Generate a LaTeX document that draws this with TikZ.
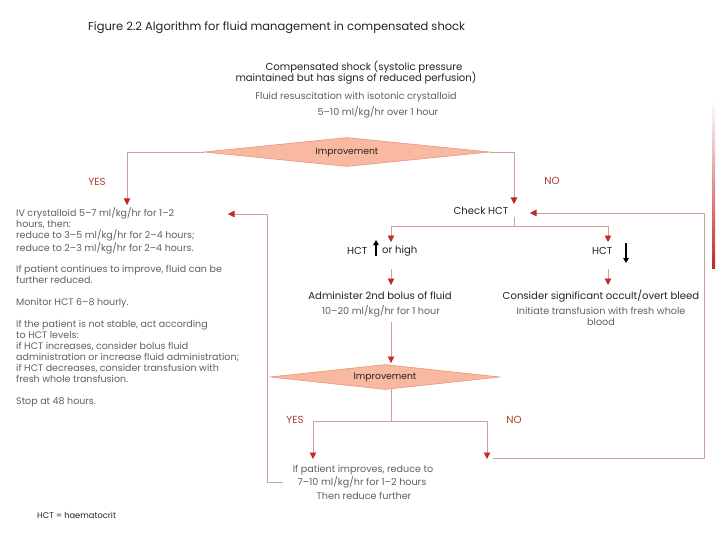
\documentclass[tikz,border=0pt]{standalone}
\usepackage{fontspec}
\setmainfont{Poppins}
\usetikzlibrary{arrows.meta,shapes.geometric}
\definecolor{linec}{RGB}{208,160,160}
\definecolor{arrowc}{RGB}{196,40,40}
\definecolor{dfill}{RGB}{249,184,160}
\definecolor{dline}{RGB}{228,140,115}
\definecolor{labc}{RGB}{176,60,50}
\definecolor{darkt}{RGB}{35,35,35}
\definecolor{grayt}{RGB}{95,95,95}
\begin{document}
\begin{tikzpicture}[x=1pt,y=-1pt,
  conn/.style={draw=linec, line width=0.6pt, -{Triangle[width=6.5pt,length=6.5pt,color=arrowc]}},
  plain/.style={draw=linec, line width=0.6pt},
  dec/.style={diamond, draw=dline, fill=dfill, line width=0.5pt, inner sep=0pt, aspect=10,
     font=\fontsize{9.2}{10}\selectfont, text=darkt},
  head/.style={inner sep=0pt, font=\fontsize{10.1}{11}\selectfont, text=darkt},
  body/.style={inner sep=0pt, font=\fontsize{9.6}{11}\selectfont, text=grayt},
  lab/.style={inner sep=0pt, font=\fontsize{10.3}{11}\selectfont, text=labc},
  blk/.style={line width=1.4pt, draw=black, -{Triangle[width=5.5pt,length=5pt]}}
]
\useasboundingbox (0,0) rectangle (720,540);
% gradient bar
\shade[top color=white, bottom color=arrowc] (712,100) rectangle (715,268);

\node[inner sep=0pt, anchor=west, font=\fontsize{11.5}{13}\selectfont, text=darkt] (title) at (88,28)
  {Figure 2.2 Algorithm for fluid management in compensated shock};

\node[head] (shock1) at (364,67) {Compensated shock (systolic pressure};
\node[head] (shock2) at (356,78) {maintained but has signs of reduced perfusion)};
\node[body] (fluid1) at (356,97) {Fluid resuscitation with isotonic crystalloid};
\node[body] (fluid2) at (378,112) {5--10 ml/kg/hr over 1 hour};

\node[dec, minimum width=286pt, minimum height=29pt] (d1) at (347,152) {Improvement};
\node[lab] (yes1) at (97,182) {YES};
\node[lab] (no1) at (552,181) {NO};

\node[inner sep=0pt, anchor=north west, align=left, font=\fontsize{9.5}{10.95}\selectfont, text=grayt] (left) at (16,207.5)
 {IV crystalloid 5--7 ml/kg/hr for 1--2\\
  hours, then:\\
  reduce to 3--5 ml/kg/hr for 2--4 hours;\\
  reduce to 2--3 ml/kg/hr for 2--4 hours.\\[10.95pt]
  If patient continues to improve, fluid can be\\
  further reduced.\\[10.95pt]
  Monitor HCT 6--8 hourly.\\[10.95pt]
  If the patient is not stable, act according\\
  to HCT levels:\\
  if HCT increases, consider bolus fluid\\
  administration or increase fluid administration;\\
  if HCT decreases, consider transfusion with\\
  fresh whole transfusion.\\[10.95pt]
  Stop at 48 hours.};

\node[head] (check) at (481,211) {Check HCT};
\node[head, anchor=west] (hctup) at (347,251) {HCT};
\node[head, anchor=west] (orhigh) at (382,251) {or high};
\node[head, anchor=west] (hctdn) at (592,251) {HCT};
\draw[blk] (376,256) -- (376,240);
\draw[blk] (626,243) -- (626,263);

\node[head] (admin) at (380,296) {Administer 2nd bolus of fluid};
\node[body] (admin2) at (381,311) {10--20 ml/kg/hr for 1 hour};
\node[head] (bleed) at (601,296) {Consider significant occult/overt bleed};
\node[body] (bleed2) at (601,311) {Initiate transfusion with fresh whole};
\node[body] (bleed3) at (601,322) {blood};

\node[dec, minimum width=230pt, minimum height=25pt] (d2) at (385,377) {Improvement};
\node[lab] (yes2) at (295,420) {YES};
\node[lab] (no2) at (514,420) {NO};

\node[body] (improves1) at (363,470) {If patient improves, reduce to};
\node[body] (improves2) at (362,482) {7--10 ml/kg/hr for 1--2 hours};
\node[body] (further) at (364,496) {Then reduce further};

\node[inner sep=0pt, anchor=west, font=\fontsize{8.3}{9}\selectfont, text=darkt] (foot) at (37,515) {HCT = haematocrit};

% coordinates
\coordinate (yesT) at (127,205);
\coordinate (noT) at (514,204);
\coordinate (chkB) at (514,217);
\coordinate (split) at (514,226);
\coordinate (upT) at (391,242);
\coordinate (dnT) at (608,242);
\coordinate (upS) at (391,269);
\coordinate (upE) at (391,285);
\coordinate (dnS) at (608,269);
\coordinate (dnE) at (608,285);
\coordinate (adB) at (391,322);
\coordinate (d2T) at (391,363);
\coordinate (d2B) at (391,389);
\coordinate (split2) at (391,421);
\coordinate (yes2T) at (313,459);
\coordinate (no2T) at (487,459);
\coordinate (retS) at (493,458);
\coordinate (retC) at (704,458);
\coordinate (chkE) at (530,213);
\coordinate (lretS) at (283,482);
\coordinate (lretC) at (267,482);
\coordinate (leftE) at (228,214);

% connectors
\draw[conn] (d1.west) -| (yesT);
\draw[conn] (d1.east) -| (noT);
\draw[plain] (chkB) -- (split);
\draw[conn] (split) -| (upT);
\draw[conn] (split) -| (dnT);
\draw[conn] (upS) -- (upE);
\draw[conn] (dnS) -- (dnE);
\draw[conn] (adB) -- (d2T);
\draw[plain] (d2B) -- (split2);
\draw[conn] (split2) -| (yes2T);
\draw[conn] (split2) -| (no2T);
\draw[conn] (retS) -- (retC) |- (chkE);
\draw[conn] (lretS) -- (lretC) |- (leftE);
\end{tikzpicture}
\end{document}
